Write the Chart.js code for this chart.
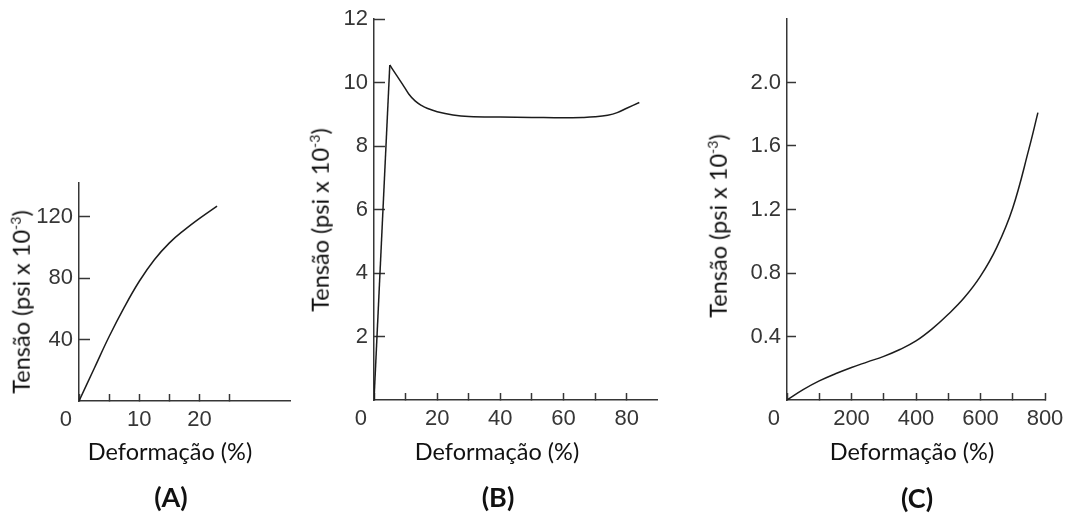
<!DOCTYPE html>
<html>
<head>
<meta charset="utf-8">
<script src="https://cdn.jsdelivr.net/npm/chart.js@4.4.1/dist/chart.umd.min.js"></script>
<style>
  html, body { margin: 0; padding: 0; background: #fff; }
  #wrap { position: relative; width: 1067px; height: 513px; overflow: hidden; }
  canvas { position: absolute; left: 0; top: 0; }
  .xt, .yt, .pl {
    position: absolute; white-space: nowrap; line-height: 1;
    font-family: Lato, "Open Sans", sans-serif; color: #111;
  }
  .xt { font-size: 23.5px; transform: translate(-50%, -50%); }
  .yt { font-size: 23.5px; transform: translate(-50%, -50%) rotate(-90deg); }
  .yt sup { font-size: 14px; vertical-align: 9px; }
  .pl { font-size: 27px; font-weight: bold; transform: translate(-50%, -50%); }
</style>
</head>
<body>
<div id="wrap">
  <canvas id="chartA" width="1067" height="513"></canvas>
  <canvas id="chartB" width="1067" height="513"></canvas>
  <canvas id="chartC" width="1067" height="513"></canvas>

  <div class="xt" style="left:170px; top:452px">Deformação (%)</div>
  <div class="xt" style="left:497px; top:452px">Deformação (%)</div>
  <div class="xt" style="left:912px; top:452px">Deformação (%)</div>

  <div class="yt" style="left:21px; top:302px">Tensão (psi x 10<sup>-3</sup>)</div>
  <div class="yt" style="left:320px; top:220px">Tensão (psi x 10<sup>-3</sup>)</div>
  <div class="yt" style="left:718px; top:226px">Tensão (psi x 10<sup>-3</sup>)</div>

  <div class="pl" style="left:171px; top:496px">(A)</div>
  <div class="pl" style="left:498px; top:496px">(B)</div>
  <div class="pl" style="left:917px; top:497px">(C)</div>
</div>

<script>
// (A) strain (%) vs stress (psi x 10^-3)
const strainA = [0, 2.5, 5, 7.5, 10, 12.5, 15, 17.5, 20, 22.9]
const stressA = [0, 21, 42, 61, 78, 92, 103, 111.5, 119, 127]
const xTicksA = [0, 5, 10, 15, 20, 25]
const xLabelsA = [10, 20]
const yTicksA = [40, 80, 120]

// (B) linear rise to the yield peak, then the drawn-out plateau
const riseStrainB = [0, 5.0]
const riseStressB = [0, 10.55]
const strainB = [5.0, 7, 9, 11, 13, 15, 17, 20, 25, 30, 40, 50, 60, 66, 70, 74, 77, 80, 84]
const stressB = [10.55, 10.25, 9.95, 9.64, 9.42, 9.28, 9.18, 9.08, 8.98, 8.93, 8.91, 8.9, 8.89, 8.9, 8.92, 8.97, 9.05, 9.19, 9.37]
const xTicksB = [0, 10, 20, 30, 40, 50, 60, 70, 80]
const xLabelsB = [20, 40, 60, 80]
const yTicksB = [2, 4, 6, 8, 10, 12]

// (C) elastomer curve
const strainC = [0, 50, 100, 150, 200, 250, 300, 350, 400, 450, 500, 550, 600, 650, 700, 750, 778]
const stressC = [0, 0.065, 0.12, 0.165, 0.205, 0.24, 0.275, 0.318, 0.372, 0.448, 0.54, 0.645, 0.78, 0.96, 1.21, 1.58, 1.81]
const xTicksC = [0, 100, 200, 300, 400, 500, 600, 700, 800]
const xLabelsC = [200, 400, 600, 800]
const yTicksC = [0.4, 0.8, 1.2, 1.6, 2.0]

const AXIS = "#363636"
const INK = "#1c1c1c"
const TICK_FONT = { family: "'Liberation Sans', Arial, sans-serif", size: 22 }
const X_TICK = 7

function pts(xs, ys) {
  return xs.map((x, i) => ({ x: x, y: ys[i] }))
}

// draws the lone "0" under the origin, a little left of the y axis
const zeroLabel = {
  id: "zeroLabel",
  afterDraw(chart) {
    const xs = chart.scales.x
    const ctx = chart.ctx
    ctx.save()
    ctx.font = TICK_FONT.size + "px " + TICK_FONT.family
    ctx.fillStyle = AXIS
    ctx.textAlign = "right"
    ctx.textBaseline = "middle"
    ctx.fillText("0", xs.getPixelForValue(0) - 7, xs.top + 6 + TICK_FONT.size * 0.6)
    ctx.restore()
  }
}

function makeChart(id, cfg) {
  const area = cfg.area
  const datasets = cfg.series.map(s => ({
    data: pts(s.x, s.y),
    borderColor: INK,
    borderWidth: 1.5,
    pointRadius: 0,
    fill: false,
    tension: s.smooth ? 0.4 : 0,
    cubicInterpolationMode: "default"
  }))

  return new Chart(document.getElementById(id), {
    type: "line",
    data: { datasets: datasets },
    plugins: [zeroLabel],
    options: {
      responsive: false,
      animation: false,
      events: [],
      layout: {
        padding: {
          left: area.left - 60,
          top: area.top,
          right: 1067 - area.right,
          bottom: 513 - area.bottom - 40
        }
      },
      plugins: { legend: { display: false }, tooltip: { enabled: false } },
      scales: {
        x: {
          type: "linear",
          min: 0,
          max: cfg.xMax,
          afterBuildTicks: s => { s.ticks = cfg.xTicks.map(v => ({ value: v })) },
          afterFit: s => {
            s.height = 40
            s.paddingLeft = 0; s.paddingRight = 0
          },
          ticks: {
            autoSkip: false,
            maxRotation: 0,
            padding: 13,
            color: AXIS,
            font: TICK_FONT,
            callback: v => cfg.xLabels.includes(v) ? String(v) : ""
          },
          grid: { drawOnChartArea: false, tickLength: -X_TICK, tickColor: AXIS, tickWidth: 1.5 },
          border: { color: AXIS, width: 1.5 }
        },
        y: {
          type: "linear",
          min: 0,
          max: cfg.yMax,
          afterBuildTicks: s => { s.ticks = cfg.yTicks.map(v => ({ value: v })) },
          afterFit: s => {
            s.width = 60
            s.paddingTop = 0; s.paddingBottom = 0
          },
          ticks: {
            autoSkip: false,
            padding: cfg.yTick + 6,
            color: AXIS,
            font: TICK_FONT,
            callback: v => cfg.yFmt ? v.toFixed(cfg.yFmt) : String(v)
          },
          grid: { drawOnChartArea: false, tickLength: -cfg.yTick, tickColor: AXIS, tickWidth: 1.5 },
          border: { color: AXIS, width: 1.5 }
        }
      }
    }
  })
}

makeChart("chartA", {
  area: { left: 79, top: 183, right: 290, bottom: 401 },
  xMax: 35, yMax: 142, yTick: 11,
  xTicks: xTicksA, xLabels: xLabelsA, yTicks: yTicksA,
  series: [{ x: strainA, y: stressA, smooth: true }]
})

makeChart("chartB", {
  area: { left: 374, top: 19, right: 657, bottom: 400 },
  xMax: 89.6, yMax: 12, yTick: 11,
  xTicks: xTicksB, xLabels: xLabelsB, yTicks: yTicksB,
  series: [
    { x: riseStrainB, y: riseStressB, smooth: false },
    { x: strainB, y: stressB, smooth: true }
  ]
})

makeChart("chartC", {
  area: { left: 787, top: 19, right: 1045, bottom: 400 },
  xMax: 800, yMax: 2.4, yTick: 9, yFmt: 1,
  xTicks: xTicksC, xLabels: xLabelsC, yTicks: yTicksC,
  series: [{ x: strainC, y: stressC, smooth: true }]
})
</script>
</body>
</html>
